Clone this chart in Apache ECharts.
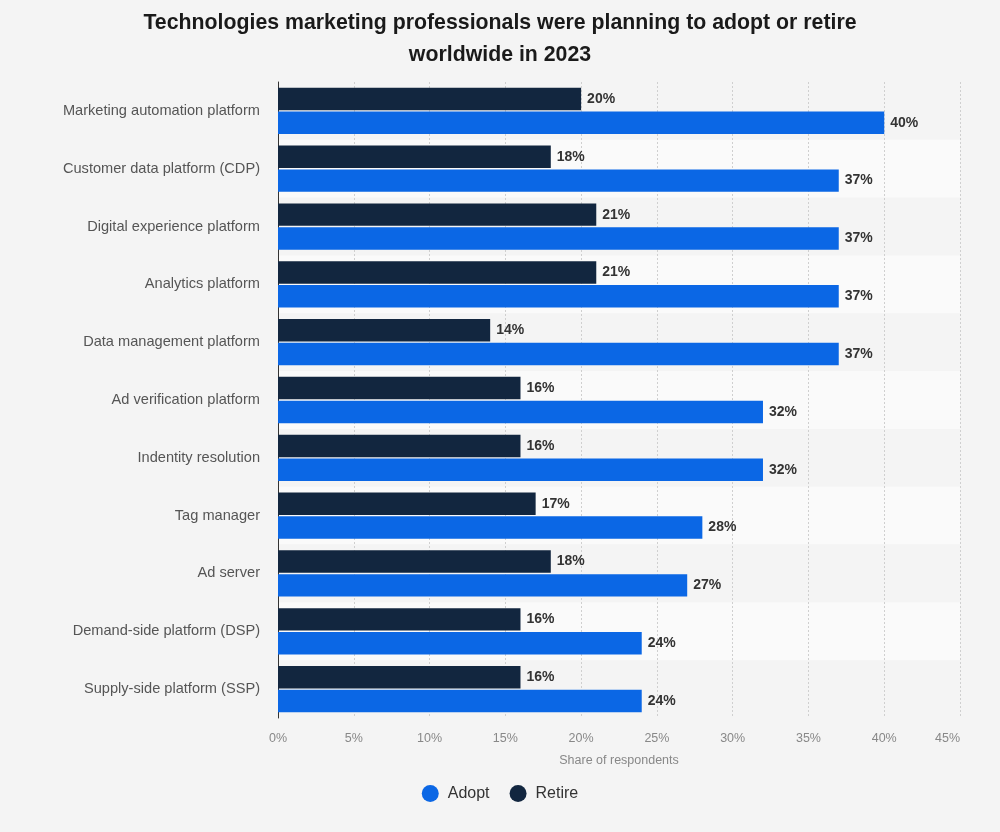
<!DOCTYPE html>
<html><head><meta charset="utf-8">
<script src="https://cdn.jsdelivr.net/npm/echarts@6/dist/echarts.min.js"></script>
<style>html,body{margin:0;padding:0;background:#f4f4f4;}#c{width:1000px;height:832px;}</style>
</head><body><div id="c"></div>
<script>
const categories = ["Marketing automation platform","Customer data platform (CDP)","Digital experience platform","Analytics platform","Data management platform","Ad verification platform","Indentity resolution","Tag manager","Ad server","Demand-side platform (DSP)","Supply-side platform (SSP)"];
const adopt = [40,37,37,37,37,32,32,28,27,24,24];
const retire = [20,18,21,21,14,16,16,17,18,16,16];
const xTicks = [0,5,10,15,20,25,30,35,40,45];

const chart = echarts.init(document.getElementById('c'), null, {renderer:'canvas'});
const font = '"Liberation Sans", Arial, sans-serif';
const lbl = {show:true, position:'right', distance:6, formatter:p=>p.value+'%', color:'#333', fontWeight:'bold', fontSize:14, fontFamily:font};
chart.setOption({
  backgroundColor:'#f4f4f4',
  animation:false,
  title:{text:'Technologies marketing professionals were planning to adopt or retire\nworldwide in 2023', left:'center', top:2,
    textStyle:{fontFamily:font, fontSize:21.3, fontWeight:'bold', color:'#1a1a1a', lineHeight:32}},
  legend:{data:['Adopt','Retire'], top:780, left:'center', icon:'circle', itemWidth:17, itemHeight:17, itemGap:20,
    textStyle:{fontFamily:font, fontSize:16, color:'#333', padding:[0,0,0,4]}},
  grid:{left:278, right:40, top:82, bottom:114, containLabel:false},
  xAxis:{type:'value', min:0, max:45, interval:5,
    axisLabel:{formatter:v=>v+'%', color:'#888', fontSize:12.5, fontFamily:font, margin:14, alignMaxLabel:'right'},
    axisLine:{show:false}, axisTick:{show:false},
    splitLine:{show:true, lineStyle:{color:'#cfcfcf', type:[2,2], width:1}},
    name:'Share of respondents', nameLocation:'middle', nameGap:36,
    nameTextStyle:{color:'#888', fontSize:12.5, fontFamily:font}},
  yAxis:{type:'category', data:categories, inverse:true,
    axisLabel:{color:'#555', fontSize:14.6, fontFamily:font, margin:18},
    axisLine:{show:true, lineStyle:{color:'#333', width:1}}, axisTick:{show:false},
    splitArea:{show:true, areaStyle:{color:['#f4f4f4','#fafafa']}}},
  series:[
    {name:'Retire', type:'bar', data:retire, itemStyle:{color:'#12263f'}, barGap:'6%', barCategoryGap:'20%', label:lbl},
    {name:'Adopt', type:'bar', data:adopt, itemStyle:{color:'#0b67e5'}, label:lbl}
  ]
});
</script></body></html>
